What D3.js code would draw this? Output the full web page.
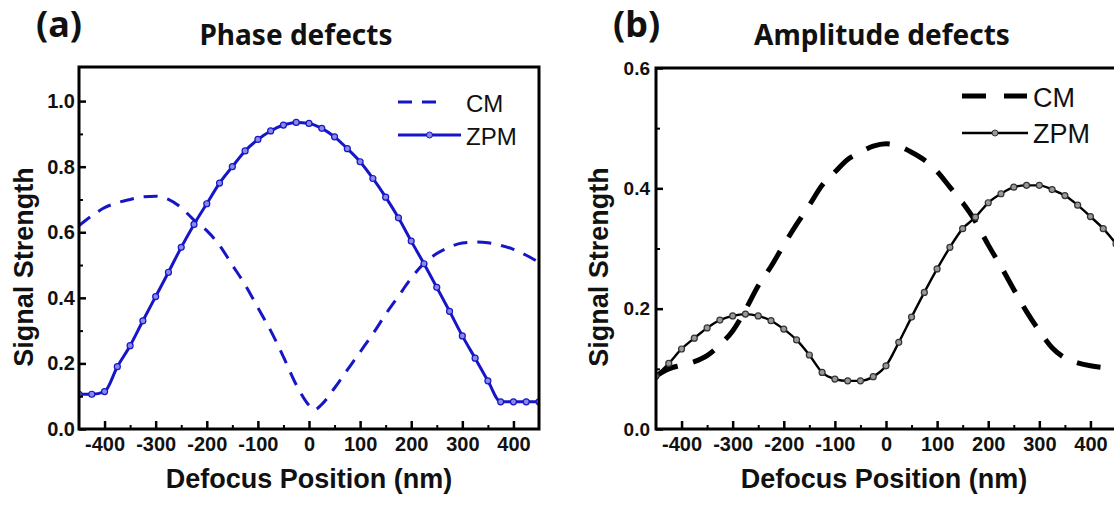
<!DOCTYPE html>
<html>
<head>
<meta charset="utf-8">
<script src="https://cdn.jsdelivr.net/npm/d3@7"></script>
<style>
  body { margin: 0; background: #fff; }
  svg { display: block; }
</style>
</head>
<body>
<div id="chart"></div>
<script>
// defocus positions (nm), shared by every series
const defocus = [-450, -425, -400, -375, -350, -325, -300, -275, -250, -225, -200, -175, -150, -125, -100, -75, -50, -25,
    0, 25, 50, 75, 100, 125, 150, 175, 200, 225, 250, 275, 300, 325, 350, 375, 400, 425, 450];

// (a) phase defects
const phaseCM = [0.62, 0.65, 0.675, 0.69, 0.70, 0.708, 0.71, 0.70, 0.675, 0.637, 0.605, 0.56, 0.50, 0.44, 0.37, 0.30, 0.22, 0.135,
    0.072, 0.075, 0.125, 0.18, 0.235, 0.29, 0.35, 0.405, 0.46, 0.505, 0.535, 0.555, 0.567, 0.57, 0.568, 0.56, 0.548, 0.53, 0.508];
const phaseCMMin = { x: 10, y: 0.058 };
const phaseZPM = [0.106, 0.106, 0.114, 0.19, 0.254, 0.33, 0.404, 0.478, 0.554, 0.624, 0.687, 0.75, 0.80, 0.848, 0.883, 0.909, 0.927, 0.935,
    0.932, 0.917, 0.891, 0.855, 0.815, 0.764, 0.707, 0.644, 0.573, 0.504, 0.432, 0.359, 0.284, 0.216, 0.147, 0.083, 0.083, 0.083, 0.083];

// (b) amplitude defects
const ampCM = [0.088, 0.1, 0.106, 0.112, 0.122, 0.14, 0.163, 0.198, 0.238, 0.27, 0.306, 0.34, 0.372, 0.405, 0.427, 0.448, 0.46, 0.47,
    0.474, 0.47, 0.46, 0.447, 0.428, 0.402, 0.376, 0.345, 0.306, 0.27, 0.232, 0.195, 0.163, 0.135, 0.118, 0.11, 0.105, 0.102, 0.1];
const ampZPM = [0.088, 0.109, 0.133, 0.151, 0.168, 0.181, 0.188, 0.191, 0.188, 0.18, 0.166, 0.148, 0.123, 0.094, 0.083, 0.08, 0.08, 0.087,
    0.105, 0.144, 0.186, 0.227, 0.266, 0.302, 0.333, 0.352, 0.376, 0.391, 0.402, 0.405, 0.405, 0.398, 0.388, 0.372, 0.353, 0.333, 0.308];

const xTicks = [-400, -300, -200, -100, 0, 100, 200, 300, 400];
const xMinorTicks = [-350, -250, -150, -50, 50, 150, 250, 350];
const seriesNames = ["CM", "ZPM"];

const W = 1114, H = 506;
const ARIAL = "Liberation Sans, Arial, Helvetica, sans-serif";
const HEAD = "Noto Sans, Roboto, sans-serif";

const svg = d3.select("#chart").append("svg")
    .attr("width", W).attr("height", H);

const toPts = (vals) => defocus.map((x, i) => ({ x: x, y: vals[i] }));

const setFont = (sel, family, size, weight) => sel
    .attr("font-family", family)
    .attr("font-size", size)
    .attr("font-weight", weight)
    .attr("fill", "#111");

const drawPanel = (p) => {
    const x = d3.scaleLinear().domain([-450, 450]).range([p.left, p.right]);
    const y = d3.scaleLinear().domain([0, p.yMax]).range([p.bottom, p.top]);

    const g = svg.append("g");

    // clip so lines stay in the frame
    const clipId = "clip-" + p.id;
    g.append("clipPath").attr("id", clipId)
        .append("rect")
        .attr("x", p.left).attr("y", p.top)
        .attr("width", p.right - p.left).attr("height", p.bottom - p.top);

    const line = d3.line()
        .x(d => x(d.x))
        .y(d => y(d.y))
        .curve(d3.curveMonotoneX);

    const plot = g.append("g").attr("clip-path", `url(#${clipId})`);

    // CM dashed
    plot.append("path")
        .datum(p.cm)
        .attr("fill", "none")
        .attr("stroke", p.color)
        .attr("stroke-width", p.cmWidth)
        .attr("stroke-dasharray", p.dash)
        .attr("d", line);

    // ZPM solid with markers
    plot.append("path")
        .datum(p.zpm)
        .attr("fill", "none")
        .attr("stroke", p.color)
        .attr("stroke-width", p.zpmWidth)
        .attr("d", line);

    plot.selectAll(".mk")
        .data(p.zpm)
        .enter().append("circle")
        .attr("cx", d => x(d.x))
        .attr("cy", d => y(d.y))
        .attr("r", 3)
        .attr("fill", p.markerFill)
        .attr("stroke", p.markerStroke)
        .attr("stroke-width", 1.2);

    // axes with inward ticks
    const xAxis = g.append("g")
        .attr("transform", `translate(0,${p.bottom})`)
        .call(d3.axisBottom(x).tickValues(xTicks).tickSize(-8).tickPadding(8).tickFormat(d => String(d)));
    xAxis.select(".domain").remove();
    xAxis.selectAll("line").attr("stroke-width", 2.5);
    setFont(xAxis.selectAll("text"), ARIAL, 20, "bold");

    const xMinor = g.append("g")
        .attr("transform", `translate(0,${p.bottom})`)
        .call(d3.axisBottom(x).tickValues(xMinorTicks).tickSize(-4).tickFormat(""));
    xMinor.select(".domain").remove();
    xMinor.selectAll("line").attr("stroke-width", 2);

    const yAxis = g.append("g")
        .attr("transform", `translate(${p.left},0)`)
        .call(d3.axisLeft(y).tickValues(p.yTicks).tickSize(-7).tickPadding(p.yPad).tickFormat(d3.format(".1f")));
    yAxis.select(".domain").remove();
    yAxis.selectAll("line").attr("stroke-width", 2.5);
    setFont(yAxis.selectAll("text"), ARIAL, p.yTickSize, "bold");

    const yMinor = g.append("g")
        .attr("transform", `translate(${p.left},0)`)
        .call(d3.axisLeft(y).tickValues(p.yMinor).tickSize(-4).tickFormat(""));
    yMinor.select(".domain").remove();
    yMinor.selectAll("line").attr("stroke-width", 2);

    // frame
    g.append("rect")
        .attr("x", p.left).attr("y", p.top)
        .attr("width", p.right - p.left).attr("height", p.bottom - p.top)
        .attr("fill", "none").attr("stroke", "#000").attr("stroke-width", 3);

    // axis titles
    setFont(g.append("text"), ARIAL, 27, "bold")
        .attr("x", p.xTitleX)
        .attr("y", 488)
        .attr("text-anchor", "middle")
        .text("Defocus Position (nm)");
    setFont(g.append("text"), ARIAL, 27, "bold")
        .attr("transform", `translate(${p.yTitleX},267) rotate(-90)`)
        .attr("text-anchor", "middle")
        .text("Signal Strength");

    // panel label and heading
    setFont(g.append("text"), HEAD, 36, "bold")
        .attr("x", p.labelX).attr("y", 37)
        .text(p.label);
    setFont(g.append("text"), HEAD, 28, "bold")
        .attr("x", p.headX).attr("y", 45)
        .attr("text-anchor", "middle")
        .text(p.heading);

    // legend
    const lg = g.append("g");
    lg.append("line")
        .attr("x1", p.leg.x0).attr("x2", p.leg.x1)
        .attr("y1", p.leg.y0).attr("y2", p.leg.y0)
        .attr("stroke", p.color).attr("stroke-width", p.cmWidth)
        .attr("stroke-dasharray", p.legDash);
    setFont(lg.append("text"), ARIAL, p.leg.size, "normal")
        .attr("x", p.leg.tx).attr("y", p.leg.b0)
        .text(seriesNames[0]);
    lg.append("line")
        .attr("x1", p.leg.x0).attr("x2", p.leg.x2)
        .attr("y1", p.leg.y1).attr("y2", p.leg.y1)
        .attr("stroke", p.color).attr("stroke-width", p.zpmWidth);
    lg.append("circle")
        .attr("cx", (p.leg.x0 + p.leg.x2) / 2).attr("cy", p.leg.y1)
        .attr("r", 3)
        .attr("fill", p.markerFill).attr("stroke", p.markerStroke);
    setFont(lg.append("text"), ARIAL, p.leg.size, "normal")
        .attr("x", p.leg.tx).attr("y", p.leg.b1)
        .text(seriesNames[1]);
};

const phaseCMPts = toPts(phaseCM);
phaseCMPts.splice(19, 0, phaseCMMin);

drawPanel({
    id: "a", left: 79, right: 539, top: 67, bottom: 429, yMax: 1.104,
    yTicks: [0, 0.2, 0.4, 0.6, 0.8, 1.0], yMinor: [0.1, 0.3, 0.5, 0.7, 0.9],
    yTickSize: 20, yPad: 4,
    cm: phaseCMPts, zpm: toPts(phaseZPM),
    color: "#1616c8", markerFill: "#8a8ae6", markerStroke: "#1616c8", cmWidth: 3, zpmWidth: 3,
    dash: "14 10", legDash: "14 10",
    label: "(a)", labelX: 36, heading: "Phase defects", headX: 296,
    yTitleX: 33, xTitleX: 309,
    leg: { x0: 398, x1: 446, x2: 461, y0: 102, y1: 135, tx: 466, b0: 112, b1: 145, size: 24 }
});

drawPanel({
    id: "b", left: 656, right: 1116, top: 68, bottom: 429, yMax: 0.6,
    yTicks: [0, 0.2, 0.4, 0.6], yMinor: [0.1, 0.3, 0.5],
    yTickSize: 19, yPad: 6,
    cm: toPts(ampCM), zpm: toPts(ampZPM),
    color: "#000", markerFill: "#999", markerStroke: "#333", cmWidth: 5, zpmWidth: 2.4,
    dash: "24 16", legDash: "24 18",
    label: "(b)", labelX: 613, heading: "Amplitude defects", headX: 882,
    yTitleX: 608, xTitleX: 884,
    leg: { x0: 962, x1: 1027, x2: 1028, y0: 96, y1: 133, tx: 1033, b0: 107, b1: 143, size: 27 }
});
</script>
</body>
</html>
